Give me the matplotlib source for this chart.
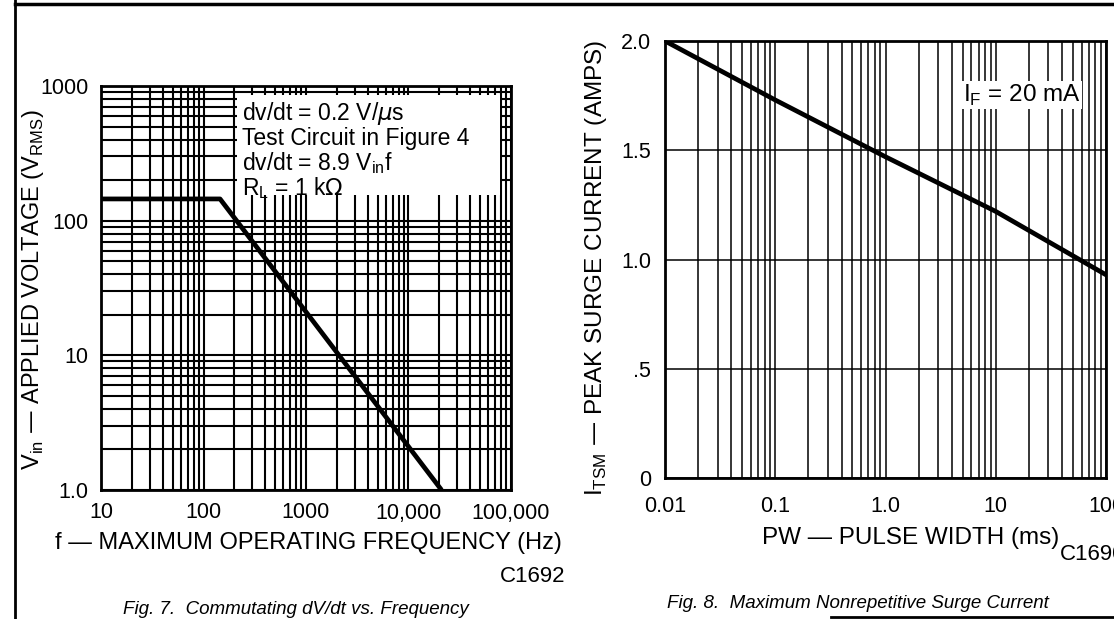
import matplotlib
matplotlib.use('Agg')
import matplotlib.pyplot as plt
from matplotlib.ticker import LogLocator, NullFormatter, FixedLocator
from matplotlib.lines import Line2D
from matplotlib.patches import Rectangle

plt.rcParams['font.family'] = ['Liberation Sans', 'DejaVu Sans']

# fig 7 - commutating dv/dt vs frequency
freq = [10, 145, 21000]
vin = [145, 145, 1.0]
f_ticks = [10, 100, 1000, 10000, 100000]
f_labels = ['10', '100', '1000', '10,000', '100,000']
v_ticks = [1, 10, 100, 1000]
v_labels = ['1.0', '10', '100', '1000']
notes = [r'dv/dt = 0.2 V/$\mu$s', 'Test Circuit in Figure 4',
         r'dv/dt = 8.9 V$_\mathregular{in}$f', r'R$_\mathregular{L}$ = 1 k$\Omega$']

# fig 8 - surge current
pw = [0.01, 0.1, 1.0, 10, 100]
itsm = [2.0, 1.73, 1.47, 1.22, 0.93]
pw_ticks = [0.01, 0.1, 1, 10, 100]
pw_labels = ['0.01', '0.1', '1.0', '10', '100']
i_ticks = [0, 0.5, 1.0, 1.5, 2.0]
i_labels = ['0', '.5', '1.0', '1.5', '2.0']

W, H = 1114, 619
fig = plt.figure(figsize=(W/100, H/100), dpi=100)

def box(x0, y0, x1, y1):
    # pixel box -> figure fraction
    return [x0/W, 1-y1/H, (x1-x0)/W, (y1-y0)/H]

axL = fig.add_axes(box(101, 86, 511, 490))
axR = fig.add_axes(box(665, 41, 1106, 478))

# left
axL.set_xscale('log')
axL.set_yscale('log')
axL.set_xlim(10, 100000)
axL.set_ylim(1, 1000)
axL.set_axisbelow(True)
axL.xaxis.set_major_locator(FixedLocator(f_ticks))
axL.yaxis.set_major_locator(FixedLocator(v_ticks))
axL.set_xticklabels(f_labels)
axL.set_yticklabels(v_labels)
axL.xaxis.set_minor_locator(LogLocator(subs=range(2, 10)))
axL.yaxis.set_minor_locator(LogLocator(subs=range(2, 10)))
axL.xaxis.set_minor_formatter(NullFormatter())
axL.yaxis.set_minor_formatter(NullFormatter())
axL.grid(which='both', color='black', lw=1.5)
axL.tick_params(which='both', length=0, labelsize=15.5, pad=9)
for s in axL.spines.values():
    s.set_linewidth(2)
axL.add_patch(Rectangle((0.332, 0.73), 0.64, 0.248, transform=axL.transAxes,
                        facecolor='white', edgecolor='none', zorder=2))
for i, t in enumerate(notes):
    axL.text(0.345, 0.932 - i*0.0615, t, transform=axL.transAxes, fontsize=16.5,
             va='center', ha='left', zorder=4)
axL.plot(freq, vin, color='black', lw=3.4, zorder=3, solid_capstyle='butt')

# right
axR.set_xscale('log')
axR.set_xlim(0.01, 100)
axR.set_ylim(0, 2.0)
axR.set_axisbelow(True)
axR.xaxis.set_major_locator(FixedLocator(pw_ticks))
axR.yaxis.set_major_locator(FixedLocator(i_ticks))
axR.set_xticklabels(pw_labels)
axR.set_yticklabels(i_labels)
axR.xaxis.set_minor_locator(LogLocator(subs=range(2, 10)))
axR.xaxis.set_minor_formatter(NullFormatter())
axR.grid(which='both', axis='x', color='black', lw=1.1)
axR.grid(which='major', axis='y', color='black', lw=1.1)
axR.tick_params(which='both', length=0, labelsize=15.5, pad=13)
axR.tick_params(axis='y', pad=10)
for s in axR.spines.values():
    s.set_linewidth(2)
axR.text(0.675, 0.876, r'I$_\mathregular{F}$ = 20 mA', transform=axR.transAxes,
         fontsize=17.5, va='center', ha='left', zorder=4,
         bbox=dict(facecolor='white', edgecolor='none', pad=1))
axR.plot(pw, itsm, color='black', lw=3.4, zorder=3)

# axis titles and captions
fig.text(33/W, 1-290/H, r'V$_\mathregular{in}$ — APPLIED VOLTAGE (V$_\mathregular{RMS}$)',
         rotation=90, ha='center', va='center', fontsize=17)
fig.text(308/W, 1-543/H, 'f — MAXIMUM OPERATING FREQUENCY (Hz)',
         ha='center', va='center', fontsize=17)
fig.text(500/W, 1-577/H, 'C1692', ha='left', va='center', fontsize=16)
fig.text(296/W, 1-610/H, 'Fig. 7.  Commutating dV/dt vs. Frequency',
         ha='center', va='center', fontsize=13.5, style='italic')

fig.text(596/W, 1-268/H, r'I$_\mathregular{TSM}$ — PEAK SURGE CURRENT (AMPS)',
         rotation=90, ha='center', va='center', fontsize=17.5)
fig.text(911/W, 1-538/H, 'PW — PULSE WIDTH (ms)', ha='center', va='center', fontsize=17.5)
fig.text(1060/W, 1-555/H, 'C1690', ha='left', va='center', fontsize=16)
fig.text(858/W, 1-603/H, 'Fig. 8.  Maximum Nonrepetitive Surge Current',
         ha='center', va='center', fontsize=13.5, style='italic')

# page rules
fig.add_artist(Line2D([15/W, 15/W], [0, 1], transform=fig.transFigure, color='black', lw=2))
fig.add_artist(Line2D([15/W, 1], [1-4/H, 1-4/H], transform=fig.transFigure, color='black', lw=2.5))
fig.add_artist(Line2D([831/W, 1], [1-617/H, 1-617/H], transform=fig.transFigure, color='black', lw=2))

fig.savefig('out.png', dpi=100)
